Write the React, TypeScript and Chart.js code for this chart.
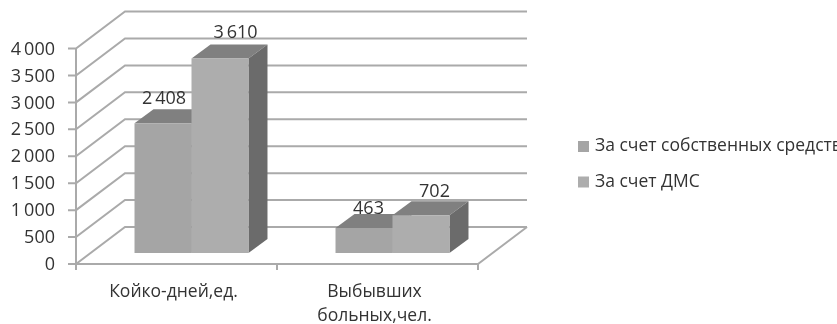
import React, { useEffect, useRef } from "react";
import { Chart, registerables } from "chart.js";

Chart.register(...registerables);

const categories: (string | string[])[] = ["Койко-дней,ед.", ["Выбывших", "больных,чел."]];
const seriesNames = ["За счет собственных средств", "За счет ДМС"];
const ownFunds = [2408, 463];
const dms = [3610, 702];
const valueLabels = [["2\u2009408", "463"], ["3\u2009610", "702"]];
const labelShift = [[[1, -24], [4.5, -19.5]], [[15.5, -26], [13.5, -23]]];

const FONT = "'Open Sans', sans-serif";
const TEXT = "#333333";
const GRID = "#aaaaaa";
const WALL = { dx: 49, dy: -37 };
const BAR_SHIFT = { dx: 15, dy: -11 };
const BAR_DEPTH = { dx: 19, dy: -14 };
const FRONT = ["#a5a5a5", "#adadad"];
const LEGEND_COLORS = ["#a5a5a5", "#adadad"];
const TOP = "#808080";
const SIDE = "#6b6b6b";

const poly = (ctx: CanvasRenderingContext2D, pts: number[][], fill: string) => {
  ctx.fillStyle = fill;
  ctx.beginPath();
  pts.forEach(([x, y], i) => (i ? ctx.lineTo(x, y) : ctx.moveTo(x, y)));
  ctx.closePath();
  ctx.fill();
};

const threeD = {
  id: "threeD",
  beforeDatasetsDraw(chart: any) {
    const { ctx, chartArea: a, scales } = chart;
    const w = WALL;
    ctx.save();
    ctx.strokeStyle = GRID;
    ctx.lineWidth = 2;
    scales.y.ticks.forEach((t: any) => {
      const y = scales.y.getPixelForValue(t.value);
      ctx.beginPath();
      ctx.moveTo(a.left - 8, y);
      ctx.lineTo(a.left, y);
      ctx.lineTo(a.left + w.dx, y + w.dy);
      ctx.lineTo(a.right + w.dx, y + w.dy);
      ctx.stroke();
    });
    ctx.beginPath();
    ctx.moveTo(a.left, a.top);
    ctx.lineTo(a.left, a.bottom + 6);
    ctx.moveTo(a.left, a.bottom);
    ctx.lineTo(a.right, a.bottom);
    ctx.lineTo(a.right + w.dx, a.bottom + w.dy);
    const mid = (a.left + a.right) / 2;
    ctx.moveTo(mid, a.bottom);
    ctx.lineTo(mid, a.bottom + 6);
    ctx.moveTo(a.right, a.bottom);
    ctx.lineTo(a.right, a.bottom + 6);
    ctx.stroke();
    ctx.restore();

    ctx.save();
    ctx.translate(BAR_SHIFT.dx, BAR_SHIFT.dy);
    const d = BAR_DEPTH;
    chart.data.datasets.forEach((_: any, i: number) => {
      chart.getDatasetMeta(i).data.forEach((b: any) => {
        const l = b.x - b.width / 2;
        const r = b.x + b.width / 2;
        poly(ctx, [[l, b.y], [r, b.y], [r + d.dx, b.y + d.dy], [l + d.dx, b.y + d.dy]], TOP);
        poly(ctx, [[r, b.y], [r + d.dx, b.y + d.dy], [r + d.dx, b.base + d.dy], [r, b.base]], SIDE);
      });
    });
  },
  afterDatasetsDraw(chart: any) {
    const { ctx } = chart;
    ctx.restore();
    ctx.save();
    ctx.font = `18px ${FONT}`;
    ctx.fillStyle = TEXT;
    ctx.textAlign = "center";
    ctx.textBaseline = "middle";
    chart.data.datasets.forEach((_: any, i: number) => {
      chart.getDatasetMeta(i).data.forEach((b: any, j: number) => {
        const [sx, sy] = labelShift[i][j];
        ctx.fillText(valueLabels[i][j], b.x + BAR_SHIFT.dx + sx, b.y + BAR_SHIFT.dy + sy);
      });
    });
    ctx.font = `17.5px ${FONT}`;
    ctx.textAlign = "left";
    chart.data.datasets.forEach((ds: any, i: number) => {
      const y = 146.5 + i * 35.5;
      ctx.fillStyle = LEGEND_COLORS[i];
      ctx.fillRect(578, y - 5.5, 11, 11);
      ctx.fillStyle = TEXT;
      ctx.fillText(ds.label, 595, y);
    });
    ctx.restore();
  },
};

export default function App() {
  const ref = useRef<HTMLCanvasElement>(null);
  useEffect(() => {
    const chart = new Chart(ref.current!, {
      type: "bar",
      plugins: [threeD],
      data: {
        labels: categories as any,
        datasets: [
          { label: seriesNames[0], data: ownFunds, backgroundColor: FRONT[0], clip: false as any },
          { label: seriesNames[1], data: dms, backgroundColor: FRONT[1], clip: false as any },
        ],
      },
      options: {
        animation: false,
        responsive: false,
        layout: { padding: { left: 0, right: 359, top: 48.5, bottom: 0 } },
        plugins: { legend: { display: false }, tooltip: { enabled: false } },
        datasets: { bar: { categoryPercentage: 0.567, barPercentage: 1 } },
        scales: {
          x: {
            grid: { display: false, drawTicks: false },
            border: { display: false },
            afterFit: (s: any) => { s.height = 60; },
            ticks: { color: TEXT, font: { family: FONT, size: 17.5, lineHeight: 1.4 }, padding: 15.75, labelOffset: -3, maxRotation: 0, autoSkip: false },
          },
          y: {
            min: 0,
            max: 4000,
            grid: { display: false, drawTicks: false },
            border: { display: false },
            afterFit: (s: any) => { s.width = 76; },
            ticks: {
              stepSize: 500,
              color: TEXT,
              font: { family: FONT, size: 18 },
              padding: 21,
              labelOffset: 1,
              callback: (v: any) => String(v).replace(/\B(?=(\d{3})+$)/g, "\u2009"),
            },
          },
        },
      } as any,
    });
    return () => chart.destroy();
  }, []);
  return (
    <div style={{ position: "absolute", left: 0, top: 0, width: 837, height: 324, background: "#fff", overflow: "hidden" }}>
      <canvas ref={ref} width={837} height={324} style={{ display: "block", filter: "blur(0.5px)" }} />
    </div>
  );
}
